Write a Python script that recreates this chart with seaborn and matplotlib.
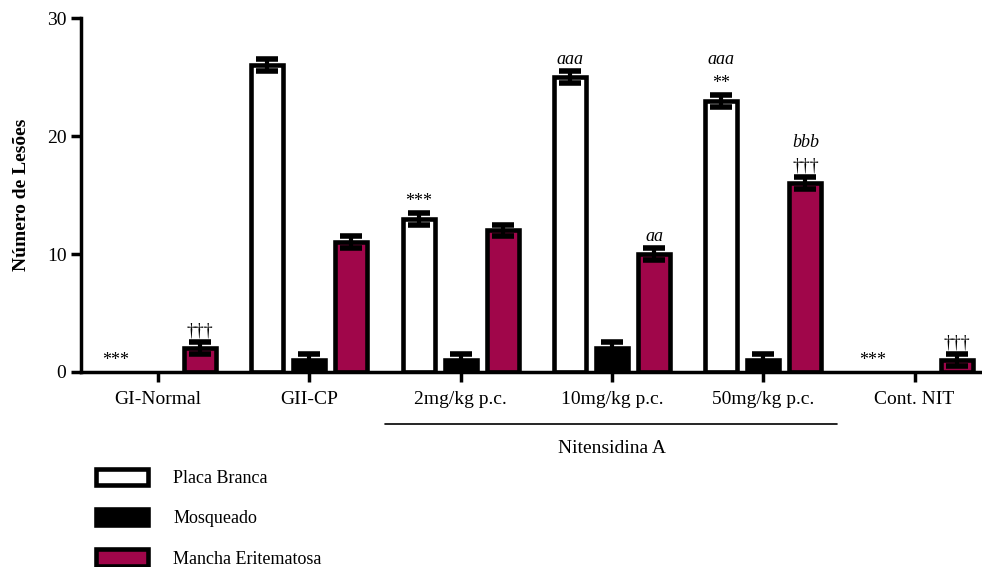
import numpy as np
import pandas as pd
import seaborn as sns
import matplotlib.pyplot as plt
from matplotlib.patches import Patch
import matplotlib.transforms as mtransforms

# data
groups = ['GI-Normal', 'GII-CP', '2mg/kg p.c.', '10mg/kg p.c.', '50mg/kg p.c.', 'Cont. NIT']
series = ['Placa Branca', 'Mosqueado', 'Mancha Eritematosa']
placa = [0, 26, 13, 25, 23, 0]
mosqueado = [0, 1, 1, 2, 1, 0]
mancha = [2, 11, 12, 10, 16, 1]
err_placa = [0, 0.5, 0.5, 0.5, 0.5, 0]
err_mosq = [0, 0.5, 0.5, 0.5, 0.5, 0]
err_mancha = [0.5, 0.5, 0.5, 0.5, 0.5, 0.5]

# significance marks: (group index, series index, text, italic)
marks = [
    (0, 0, '***', False),
    (0, 2, '†††', False),
    (2, 0, '***', False),
    (3, 0, 'aaa', True),
    (3, 2, 'aa', True),
    (4, 0, '**', False),
    (4, 0, 'aaa', True),
    (4, 2, '†††', False),
    (4, 2, 'bbb', True),
    (5, 0, '***', False),
    (5, 2, '†††', False),
]

colors = ['white', 'black', '#a0064a']

sns.set_style('ticks')
plt.rcParams['font.family'] = ['Liberation Serif', 'DejaVu Serif']
plt.rcParams['axes.edgecolor'] = 'black'
plt.rcParams['xtick.color'] = 'black'
plt.rcParams['ytick.color'] = 'black'
plt.rcParams['text.color'] = 'black'
plt.rcParams['axes.labelcolor'] = 'black'

df = pd.DataFrame({
    'grupo': groups * 3,
    'serie': [s for s in series for _ in groups],
    'valor': placa + mosqueado + mancha,
})
errs = [err_placa, err_mosq, err_mancha]
vals = [placa, mosqueado, mancha]

fig = plt.figure(figsize=(9.82, 5.67), dpi=100)
ax = fig.add_axes([0.0825, 0.344, 0.9175, 0.624])

sns.barplot(data=df, x='grupo', y='valor', hue='serie', hue_order=series,
            order=groups, palette=colors, saturation=1, edgecolor='black',
            linewidth=3.3, width=0.835, gap=0.24, errorbar=None, ax=ax,
            legend=False)

bars = list(ax.containers)
centers = [[p.get_x() + p.get_width() / 2 for p in cont] for cont in bars]
# empty bars are not drawn in the original
for cont in bars:
    for p in cont:
        if p.get_height() == 0:
            p.set_visible(False)

# error bars on top of the bars (skip groups without a bar)
for k in range(3):
    keep = [i for i in range(len(groups)) if errs[k][i] > 0]
    ax.errorbar([centers[k][i] for i in keep], [vals[k][i] for i in keep],
                yerr=[errs[k][i] for i in keep], fmt='none', ecolor='black',
                elinewidth=3, capsize=8, capthick=4, zorder=5)

# significance marks, stacked above the error bar
level = {}
for g, s, txt, it in marks:
    n = level.get((g, s), 0)
    y = vals[s][g] + errs[s][g] + 0.25 + n * 2.0
    level[(g, s)] = n + 1
    ax.text(centers[s][g], y, txt, ha='center', va='bottom', fontsize=13,
            style='italic' if it else 'normal', zorder=6)

ax.set_xlim(-0.509, 5.446)
ax.set_ylim(0, 30)
ax.set_yticks([0, 10, 20, 30])
ax.set_xlabel('')
ax.set_ylabel('Número de Lesões', fontsize=14, fontweight='bold', labelpad=12)
ax.tick_params(axis='both', width=2.5, length=7, labelsize=14, direction='out')
ax.tick_params(axis='x', pad=7)
for sp in ['left', 'bottom']:
    ax.spines[sp].set_linewidth(2.5)
sns.despine(ax=ax)

# Nitensidina A bracket under the dose groups
trans = mtransforms.blended_transform_factory(ax.transData, ax.transAxes)
ax.plot([1.5, 4.49], [-0.147, -0.147], color='black', lw=1.2,
        transform=trans, clip_on=False)
ax.text(3.0, -0.215, 'Nitensidina A', transform=trans, ha='center',
        va='center', fontsize=14)

handles = [Patch(facecolor=c, edgecolor='black', linewidth=3.3) for c in colors]
fig.legend(handles, series, loc='upper left', bbox_to_anchor=(0.09, 0.186),
           frameon=False, fontsize=13, handlelength=2.9, handleheight=1.0,
           labelspacing=1.22, handletextpad=1.4, borderaxespad=0)

fig.savefig('out.png', dpi=100)
